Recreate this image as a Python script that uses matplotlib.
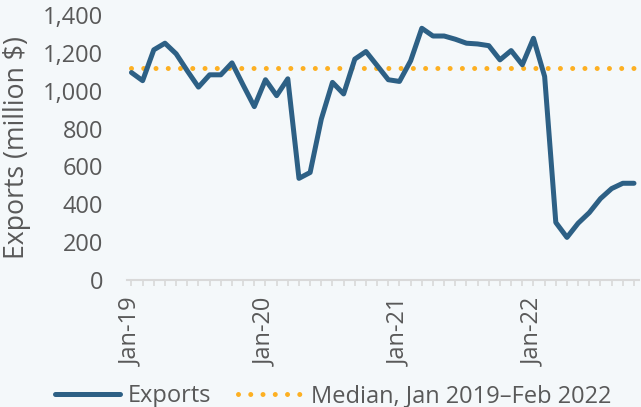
import matplotlib
matplotlib.use("Agg")
import matplotlib.pyplot as plt
import numpy as np

months = ["Jan-19", "Feb-19", "Mar-19", "Apr-19", "May-19", "Jun-19", "Jul-19", "Aug-19",
          "Sep-19", "Oct-19", "Nov-19", "Dec-19",
          "Jan-20", "Feb-20", "Mar-20", "Apr-20", "May-20", "Jun-20", "Jul-20", "Aug-20",
          "Sep-20", "Oct-20", "Nov-20", "Dec-20",
          "Jan-21", "Feb-21", "Mar-21", "Apr-21", "May-21", "Jun-21", "Jul-21", "Aug-21",
          "Sep-21", "Oct-21", "Nov-21", "Dec-21",
          "Jan-22", "Feb-22", "Mar-22", "Apr-22", "May-22", "Jun-22", "Jul-22", "Aug-22",
          "Sep-22", "Oct-22"]
exports = [1096, 1053, 1216, 1251, 1195, 1105, 1019, 1084, 1084, 1147, 1030, 916,
           1058, 974, 1063, 537, 568, 850, 1044, 983, 1167, 1207, 1133, 1058,
           1049, 1158, 1330, 1289, 1289, 1272, 1251, 1247, 1238, 1163, 1212, 1137,
           1277, 1075, 304, 225, 300, 356, 430, 483, 511, 511]
median_value = 1122
tick_labels = ["Jan-19", "Jan-20", "Jan-21", "Jan-22"]
yticks = [0, 200, 400, 600, 800, 1000, 1200, 1400]

bg = "#F4F8FA"
txt = "#595959"
blue = "#2D6085"
orange = "#FDB022"
fs = 17

plt.rcParams['font.family'] = ['Open Sans', 'DejaVu Sans']
fig = plt.figure(figsize=(6.41, 4.07), dpi=100, facecolor=bg)
ax = fig.add_axes([127/641, 1-280/407, (639-127)/641, (280-15)/407], facecolor=bg)

x = np.arange(len(months))
ax.plot(x, exports, color=blue, lw=3.6, solid_capstyle='round', solid_joinstyle='round',
        label="Exports", zorder=3)
ax.plot(x, [median_value]*len(x), color=orange, lw=3.6, linestyle=(0, (0.001, 2.45)),
        dash_capstyle='round', label="Median, Jan 2019\u2013Feb 2022", zorder=2)

ax.set_xlim(-0.4, len(x) - 0.55)
ax.set_ylim(0, 1400)
ax.set_yticks(yticks)
ax.set_yticklabels([f"{v:,}" for v in yticks])
ax.set_xticks(x)
ax.set_xticklabels([m if m in tick_labels else "" for m in months], rotation=90)

for s in ["top", "right", "left"]:
    ax.spines[s].set_visible(False)
ax.spines["bottom"].set_color("#D9D9D9")
ax.spines["bottom"].set_linewidth(1.5)
ax.tick_params(axis='x', length=4.5, width=1.2, color="#D9D9D9", labelcolor=txt,
               labelsize=fs, pad=8)
ax.tick_params(axis='y', length=0, labelcolor=txt, labelsize=fs, pad=17)
ax.set_ylabel("Exports (million $)", color=txt, fontsize=19.2)
ax.yaxis.set_label_coords(-0.1875, 0.5)

leg = fig.legend(loc="center", bbox_to_anchor=(333/641, 1-396/407), ncol=2, frameon=False,
                 fontsize=fs, labelcolor=txt, handlelength=2.75, handletextpad=0.35,
                 columnspacing=1.1, borderpad=0, borderaxespad=0)

fig.savefig("out.png", dpi=100, facecolor=bg)
